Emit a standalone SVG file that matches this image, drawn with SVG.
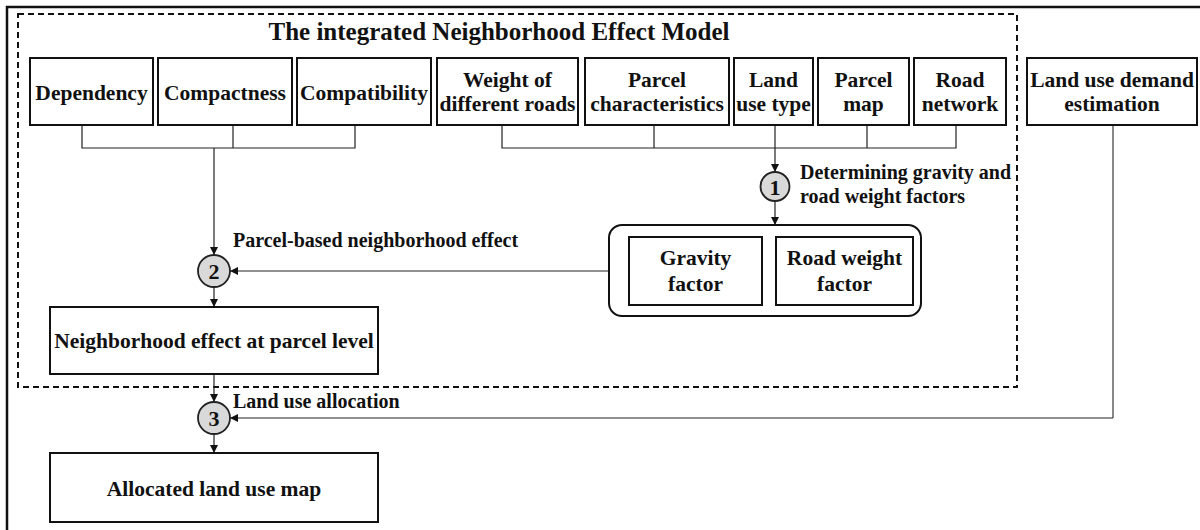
<svg xmlns="http://www.w3.org/2000/svg" width="1200" height="530" viewBox="0 0 1200 530">
<defs>
<style>
.box{fill:#fff;stroke:#111;stroke-width:2}
.t{font-family:"Liberation Serif","Times New Roman",serif;font-weight:bold;font-size:21.5px;fill:#111;text-anchor:middle}
.lbl{font-family:"Liberation Serif","Times New Roman",serif;font-weight:bold;font-size:20px;fill:#111}
.ln{fill:none;stroke:#222;stroke-width:1.2}
.circ{fill:#d9d9d9;stroke:#222;stroke-width:1.8}
.num{font-family:"Liberation Serif","Times New Roman",serif;font-weight:bold;font-size:22px;fill:#111;text-anchor:middle}
</style>
<marker id="ah" viewBox="0 0 10 10" refX="10" refY="5" markerWidth="8" markerHeight="8" markerUnits="userSpaceOnUse" orient="auto">
<path d="M0,0 L10,5 L0,10 z" fill="#111"/>
</marker>
</defs>
<rect width="1200" height="530" fill="#fff"/>
<g id="frame">
<path d="M7,530 V7 H1200" fill="none" stroke="#111" stroke-width="2.5"/>
<rect x="18" y="14" width="999" height="373" fill="none" stroke="#111" stroke-width="2" stroke-dasharray="6,4"/>
<text class="t" x="499" y="40" style="font-size:25px">The integrated Neighborhood Effect Model</text>
</g>
<g id="connectors">
<path class="ln" d="M82,125 V148 H355 V125 M233,125 V148"/>
<path class="ln" d="M214,148 V255" marker-end="url(#ah)"/>
<path class="ln" d="M502,125 V148 H956 V125 M654,125 V148 M867,125 V148"/>
<path class="ln" d="M775,125 V172" marker-end="url(#ah)"/>
<path class="ln" d="M775,201 V225" marker-end="url(#ah)"/>
<path class="ln" d="M609,271 H230" marker-end="url(#ah)"/>
<path class="ln" d="M214,287 V307" marker-end="url(#ah)"/>
<path class="ln" d="M214,374 V402" marker-end="url(#ah)"/>
<path class="ln" d="M214,434 V453" marker-end="url(#ah)"/>
<path d="M1113,125 V418" fill="none" stroke="#888" stroke-width="2"/>
<path class="ln" d="M1113,418 H230" marker-end="url(#ah)"/>
</g>
<g id="dependency"><rect class="box" x="30" y="58" width="123" height="67"/><text class="t" x="91.5" y="100">Dependency</text></g>
<g id="compactness"><rect class="box" x="158" y="58" width="134" height="67"/><text class="t" x="225" y="100">Compactness</text></g>
<g id="compatibility"><rect class="box" x="297" y="58" width="134" height="67"/><text class="t" x="364" y="100">Compatibility</text></g>
<g id="weight-roads"><rect class="box" x="437" y="58" width="141" height="67"/><text class="t" x="507.5" y="87">Weight of</text><text class="t" x="507.5" y="111">different roads</text></g>
<g id="parcel-characteristics"><rect class="box" x="585" y="58" width="144" height="67"/><text class="t" x="657" y="87">Parcel</text><text class="t" x="657" y="111">characteristics</text></g>
<g id="land-use-type"><rect class="box" x="734" y="58" width="79" height="67"/><text class="t" x="773.5" y="87">Land</text><text class="t" x="773.5" y="111">use type</text></g>
<g id="parcel-map"><rect class="box" x="818" y="58" width="91" height="67"/><text class="t" x="863.5" y="87">Parcel</text><text class="t" x="863.5" y="111">map</text></g>
<g id="road-network"><rect class="box" x="914" y="58" width="92" height="67"/><text class="t" x="960" y="87">Road</text><text class="t" x="960" y="111">network</text></g>
<g id="land-demand"><rect class="box" x="1027" y="58" width="170" height="67"/><text class="t" x="1112" y="87">Land use demand</text><text class="t" x="1112" y="111">estimation</text></g>
<g id="step1"><circle class="circ" cx="775" cy="186.5" r="14.5"/><text class="num" x="775" y="194.5">1</text>
<text class="lbl" x="800" y="179">Determining gravity and</text><text class="lbl" x="800" y="203">road weight factors</text></g>
<g id="factors"><rect x="609" y="225" width="312" height="91" rx="13" fill="#fff" stroke="#111" stroke-width="2"/>
<rect class="box" x="629" y="237" width="133" height="68"/><text class="t" x="695.5" y="265">Gravity</text><text class="t" x="695.5" y="291">factor</text>
<rect class="box" x="776" y="237" width="137" height="68"/><text class="t" x="844.5" y="265">Road weight</text><text class="t" x="844.5" y="291">factor</text></g>
<g id="step2"><circle class="circ" cx="214" cy="271" r="16"/><text class="num" x="214" y="279">2</text>
<text class="lbl" x="233" y="247">Parcel-based neighborhood effect</text></g>
<g id="neighborhood-effect"><rect class="box" x="50" y="307" width="328" height="67"/><text class="t" x="214" y="348">Neighborhood effect at parcel level</text></g>
<g id="step3"><circle class="circ" cx="214" cy="418" r="16"/><text class="num" x="214" y="426">3</text>
<text class="lbl" x="233" y="408">Land use allocation</text></g>
<g id="allocated-map"><rect class="box" x="50" y="453" width="328" height="69"/><text class="t" x="214" y="496">Allocated land use map</text></g>
</svg>
